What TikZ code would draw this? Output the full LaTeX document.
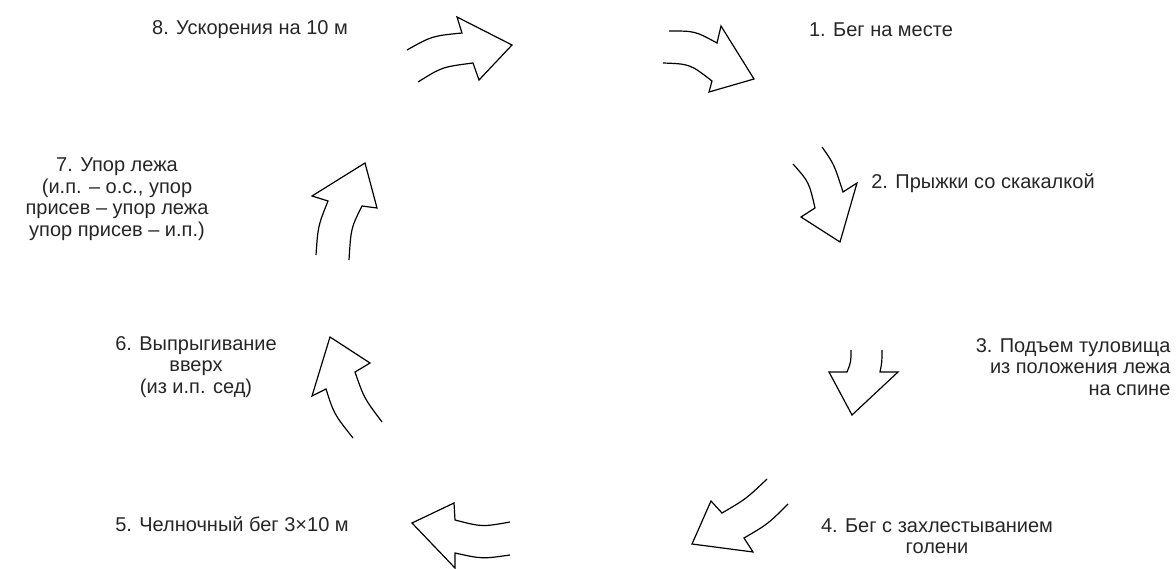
\documentclass[tikz,border=0pt]{standalone}
\usepackage{fontspec}
\setmainfont{Liberation Sans}

\begin{document}
\begin{tikzpicture}[x=1pt, y=-1pt, line width=1.2pt, line join=miter,
  lbl/.style={font=\fontsize{20}{21.5}\selectfont, text=black!85, align=center, inner sep=0pt}]
  \useasboundingbox (0,0) rectangle (1176,569);
  % подписи
  \node[lbl] (s8) at (250,30) {8. Ускорения на 10 м};
  \node[lbl] (s1) at (881,30) {1. Бег на месте};
  \node[lbl] (s2) at (983,183) {2. Прыжки со скакалкой};
  \node[lbl, align=right, anchor=east] (s3) at (1171,367) {3. Подъем туловища\\из положения лежа\\на спине};
  \node[lbl] (s4) at (937,536) {4. Бег с захлестыванием\\голени};
  \node[lbl] (s5) at (232,524) {5. Челночный бег 3×10 м};
  \node[lbl] (s6) at (196,367) {6. Выпрыгивание\\вверх\\(из и.п. сед)};
  \node[lbl] (s7) at (117,199) {7. Упор лежа\\(и.п. – о.с., упор\\присев – упор лежа\\упор присев – и.п.)};
  % стрелки по кругу
  \draw (407,50) .. controls (432,36) .. (462,33) -- (457,17) -- (512,45) -- (479,80) -- (473,63) .. controls (442,67) .. (418,82);
  \draw (669,31) .. controls (695,31) .. (717,43) -- (721,26) -- (754,79) -- (709,92) -- (712,81) .. controls (690,64) .. (663,63);
  \draw (793,164) .. controls (809,182) .. (815,208) -- (801,217) -- (840,242) -- (857,183) -- (843,192) .. controls (834,164) .. (822,147);
  \draw (851,350) .. controls (851,362) .. (847,372) -- (829,372) -- (852,415) -- (898,372) -- (880,372) .. controls (882,362) .. (882,350);
  \draw (767,479) .. controls (746,499) .. (722,513) -- (711,501) -- (692,544) -- (753,552) -- (744,538) .. controls (768,524) .. (788,504);
  \draw (510,522) .. controls (482,527) .. (455,520) -- (454,503) -- (412,523) -- (455,568) -- (455,553) .. controls (482,559) .. (510,555);
  \draw (353,438) .. controls (334,414) .. (326,389) -- (312,396) -- (330,337) -- (370,363) -- (355,372) .. controls (364,398) .. (382,422);
  \draw (316,255) .. controls (318,226) .. (328,201) -- (312,196) -- (365,163) -- (377,208) -- (362,206) .. controls (351,228) .. (349,260);
\end{tikzpicture}
\end{document}
